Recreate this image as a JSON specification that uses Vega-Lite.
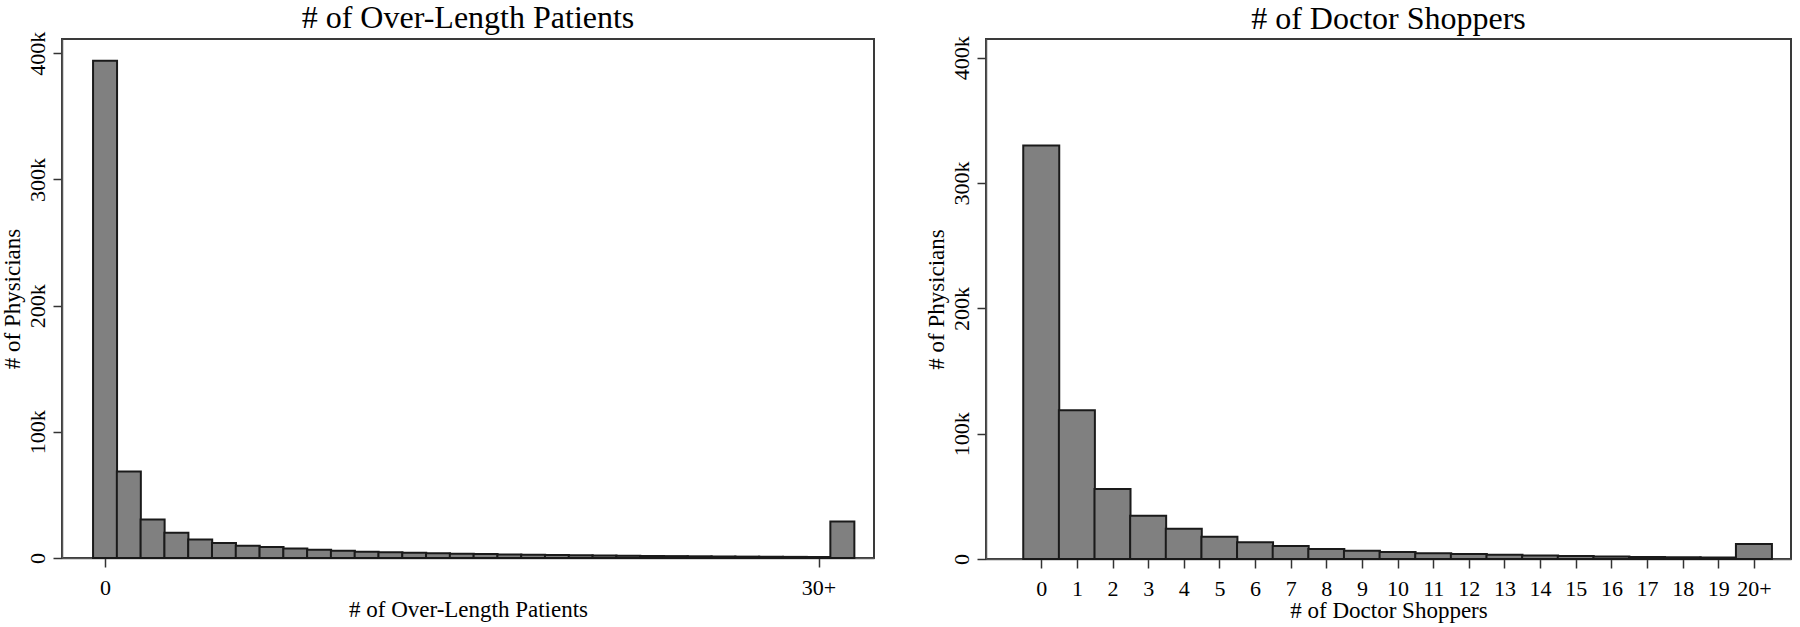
{
  "$schema": "https://vega.github.io/schema/vega-lite/v6.json",
  "padding": {"left": 0, "top": 1, "right": 0, "bottom": 0},
  "background": "white",
  "bounds": "flush",
  "spacing": 112,
  "config": {
    "font": "Liberation Serif",
    "view": {"stroke": "#3a3a3a", "strokeWidth": 2},
    "axis": {
      "grid": false,
      "labelFont": "Liberation Serif",
      "titleFont": "Liberation Serif",
      "labelColor": "black",
      "titleColor": "black",
      "tickColor": "#333333",
      "tickWidth": 1.5,
      "domainColor": "#555555",
      "domainWidth": 1.5,
      "labelFontSize": 22,
      "titleFontSize": 23,
      "titleFontWeight": "normal",
      "tickSize": 9,
      "labelOverlap": false,
      "labelFlush": false
    },
    "title": {
      "font": "Liberation Serif",
      "fontSize": 32,
      "fontWeight": "normal",
      "color": "black",
      "anchor": "middle",
      "frame": "group",
      "baseline": "alphabetic"
    }
  },
  "datasets": {
    "over": [
      {"k": 0, "n": 394000}, {"k": 1, "n": 68500}, {"k": 2, "n": 30600}, {"k": 3, "n": 20000},
      {"k": 4, "n": 14600}, {"k": 5, "n": 11900}, {"k": 6, "n": 9800}, {"k": 7, "n": 8700},
      {"k": 8, "n": 7500}, {"k": 9, "n": 6600}, {"k": 10, "n": 5800}, {"k": 11, "n": 5000},
      {"k": 12, "n": 4500}, {"k": 13, "n": 4100}, {"k": 14, "n": 3700}, {"k": 15, "n": 3400},
      {"k": 16, "n": 3100}, {"k": 17, "n": 2800}, {"k": 18, "n": 2600}, {"k": 19, "n": 2400},
      {"k": 20, "n": 2200}, {"k": 21, "n": 2000}, {"k": 22, "n": 1800}, {"k": 23, "n": 1650},
      {"k": 24, "n": 1500}, {"k": 25, "n": 1350}, {"k": 26, "n": 1200}, {"k": 27, "n": 1100},
      {"k": 28, "n": 1000}, {"k": 29, "n": 900}, {"k": 30, "n": 800}, {"k": 31, "n": 29000}
    ],
    "shop": [
      {"k": 0, "n": 330000}, {"k": 1, "n": 118700}, {"k": 2, "n": 55900}, {"k": 3, "n": 34600},
      {"k": 4, "n": 24200}, {"k": 5, "n": 17800}, {"k": 6, "n": 13300}, {"k": 7, "n": 10400},
      {"k": 8, "n": 8000}, {"k": 9, "n": 6600}, {"k": 10, "n": 5600}, {"k": 11, "n": 4500},
      {"k": 12, "n": 4000}, {"k": 13, "n": 3400}, {"k": 14, "n": 2700}, {"k": 15, "n": 2400},
      {"k": 16, "n": 1900}, {"k": 17, "n": 1600}, {"k": 18, "n": 1300}, {"k": 19, "n": 1100},
      {"k": 20, "n": 12000}
    ]
  },
  "hconcat": [
    {
      "title": {"text": "# of Over-Length Patients", "offset": -4},
      "width": 812,
      "height": 519,
      "data": {"name": "over"},
      "mark": {"type": "bar", "size": 24, "fill": "#808080", "stroke": "#1a1a1a", "strokeWidth": 2, "orient": "vertical"},
      "encoding": {
        "x": {
          "field": "k", "type": "quantitative",
          "scale": {"domain": [-1.6, 32.12], "nice": false, "zero": false},
          "axis": {"values": [0, 30], "labelExpr": "datum.value == 30 ? '30+' : datum.label", "title": "# of Over-Length Patients", "labelPadding": 10, "titlePadding": 0}
        },
        "y": {
          "field": "n", "type": "quantitative",
          "scale": {"domain": [0, 411300], "nice": false},
          "axis": {"values": [0, 100000, 200000, 300000, 400000], "labelExpr": "datum.value == 0 ? '0' : format(datum.value/1000, 'd') + 'k'", "labelAngle": -90, "labelAlign": "center", "labelBaseline": "alphabetic", "labelPadding": 9, "title": "# of Physicians", "titlePadding": 2}
        }
      }
    },
    {
      "title": {"text": "# of Doctor Shoppers", "offset": 0},
      "width": 805,
      "height": 520,
      "data": {"name": "shop"},
      "mark": {"type": "bar", "size": 36, "fill": "#808080", "stroke": "#1a1a1a", "strokeWidth": 2, "orient": "vertical"},
      "encoding": {
        "x": {
          "field": "k", "type": "quantitative",
          "scale": {"domain": [-1.41, 20.9], "nice": false, "zero": false},
          "axis": {"values": [0, 1, 2, 3, 4, 5, 6, 7, 8, 9, 10, 11, 12, 13, 14, 15, 16, 17, 18, 19, 20], "labelExpr": "datum.value == 20 ? '20+' : datum.label", "title": "# of Doctor Shoppers", "labelPadding": 10, "titlePadding": 0}
        },
        "y": {
          "field": "n", "type": "quantitative",
          "scale": {"domain": [0, 415000], "nice": false},
          "axis": {"values": [0, 100000, 200000, 300000, 400000], "labelExpr": "datum.value == 0 ? '0' : format(datum.value/1000, 'd') + 'k'", "labelAngle": -90, "labelAlign": "center", "labelBaseline": "alphabetic", "labelPadding": 9, "title": "# of Physicians", "titlePadding": 2}
        }
      }
    }
  ]
}
